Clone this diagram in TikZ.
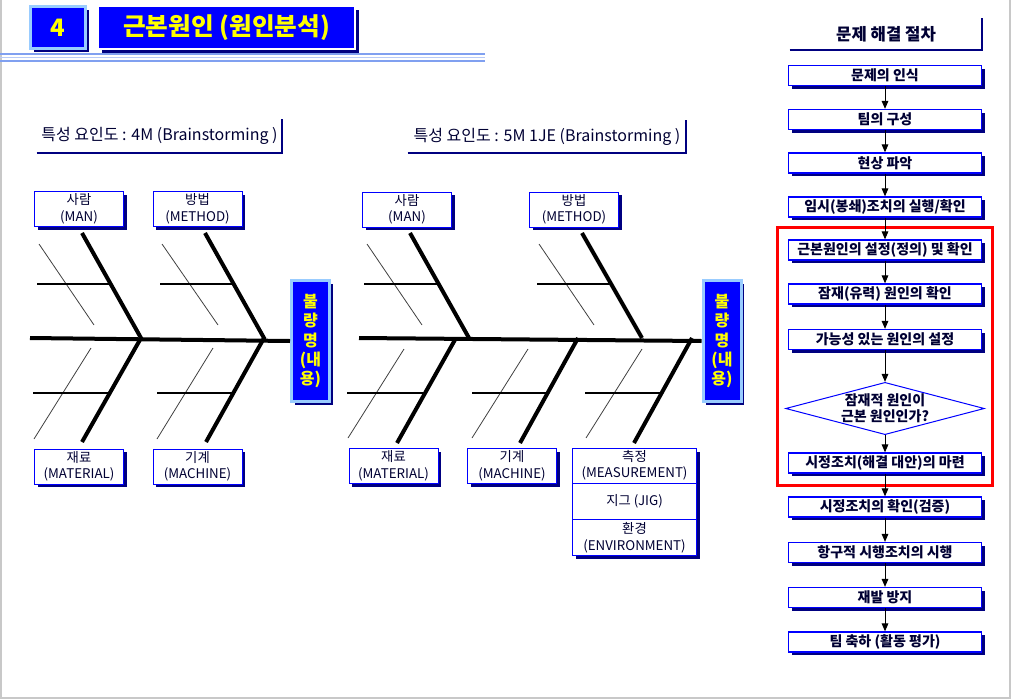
\documentclass[tikz,border=0pt]{standalone}
\usepackage{fontspec}
\setmainfont{Noto Sans CJK KR}
\usetikzlibrary{arrows.meta, positioning, shapes.geometric, shadows, fit}

\definecolor{navy}{RGB}{0,0,128}
\definecolor{boxblue}{RGB}{0,0,255}
\definecolor{paleblue}{RGB}{153,204,255}
\definecolor{ink}{RGB}{0,0,51}
\definecolor{titleyellow}{RGB}{255,255,0}
\definecolor{rulecol}{RGB}{128,160,240}
\definecolor{pageedge}{RGB}{200,200,200}

\tikzset{
  navyshadow/.style={drop shadow={shadow xshift=2.5pt, shadow yshift=-2.5pt, fill=navy, opacity=1}},
  labelbox/.style={draw=boxblue, fill=white, line width=0.75pt, minimum width=66.75pt, minimum height=26.25pt,
    inner sep=1pt, align=center, text=ink, font=\fontsize{10}{12.4}\selectfont, navyshadow},
  effectbox/.style={fill=boxblue, draw=paleblue, line width=2.25pt, minimum width=28.5pt, minimum height=90.75pt,
    inner sep=0pt, align=center, text=titleyellow, font=\bfseries\fontsize{12}{14.6}\selectfont, navyshadow},
  heading/.style={inner sep=0pt, text=ink, font=\fontsize{12}{14}\selectfont},
  headline/.style={navy, line width=1.5pt},
  flowbox/.style={draw=boxblue, fill=white, line width=1pt, minimum width=144.75pt, minimum height=15pt,
    inner sep=0pt, text=ink, font=\bfseries\fontsize{10.5}{12}\selectfont, navyshadow},
  flowarrow/.style={-{Triangle[width=5pt,length=6pt]}, line width=0.75pt},
  bigbone/.style={line width=3pt},
  spine/.style={line width=3pt},
  thinbone/.style={line width=0.6pt, black!75},
  crossbone/.style={line width=0.9pt},
  redframe/.style={draw=red, line width=2.25pt, inner xsep=7.5pt, inner ysep=9pt}
}

\begin{document}
\begin{tikzpicture}[x=0.75pt, y=-0.75pt]
    \useasboundingbox (0,0) rectangle (1012,699);
    \draw[pageedge, line width=1.5pt] (0.75,0) -- (0.75,697.5) -- (1009.5,697.5) -- (1009.5,0);

    \node[fill=boxblue, draw=paleblue, line width=2.25pt, minimum width=41.25pt, minimum height=31.5pt,
      text=titleyellow, font=\bfseries\fontsize{18}{20}\selectfont, navyshadow] (secno) at (58, 27.5) {4};
    \node[fill=boxblue, draw=white, line width=1.5pt, minimum width=192.75pt, minimum height=32.25pt,
      text=titleyellow, font=\bfseries\fontsize{18.5}{20}\selectfont,
      drop shadow={shadow xshift=3pt, shadow yshift=-3pt, fill=navy, opacity=1}] (title) at (226.5, 27.5) {근본원인 (원인분석)};
    \foreach \ry/\rc in {54/rulecol, 57.5/rulecol!55, 61/rulecol}
        \draw[\rc, line width=1pt] (0,\ry) -- (485,\ry);

    \node[heading, minimum width=183.75pt, minimum height=25.5pt] (hd4m) at (159.5, 136) {특성 요인도 : 4M (Brainstorming )};
    \draw[headline] (hd4m.south west) -- (hd4m.south east) -- (hd4m.north east);
    \node[heading, minimum width=208.5pt, minimum height=24.75pt] (hd5m) at (547, 136.5) {특성 요인도 : 5M 1JE (Brainstorming )};
    \draw[headline] (hd5m.south west) -- (hd5m.south east) -- (hd5m.north east);

    \node[labelbox] (man1) at (79, 209) {사람\\(MAN)};
    \node[labelbox] (method1) at (197.5, 209) {방법\\(METHOD)};
    \node[labelbox] (material1) at (79, 466.5) {재료\\(MATERIAL)};
    \node[labelbox] (machine1) at (197.5, 466.5) {기계\\(MACHINE)};
    \node[effectbox] (effect1) at (310.5, 341) {불\\량\\명\\(내\\용)};

    \draw[spine] (30,338) -- (effect1.west);
    \draw[bigbone] (82,233) -- (141,338) -- (82,442);
    \draw[bigbone] (205,233) -- (264,338) -- (206,442);
    \draw[thinbone] (39,244) -- (94,325);
    \draw[crossbone] (37,284) -- (111,284);
    \draw[thinbone] (162,244) -- (218,325);
    \draw[crossbone] (160,284) -- (234,284);
    \draw[thinbone] (91,348) -- (34,439);
    \draw[crossbone] (33,393) -- (110,393);
    \draw[thinbone] (213,348) -- (157,439);
    \draw[crossbone] (157,393) -- (233,393);

    \node[labelbox] (man2) at (407, 209.5) {사람\\(MAN)};
    \node[labelbox] (method2) at (574, 209.5) {방법\\(METHOD)};
    \node[labelbox] (material2) at (393.5, 466) {재료\\(MATERIAL)};
    \node[labelbox] (machine2) at (512, 466) {기계\\(MACHINE)};
    \node[labelbox, minimum width=93pt, minimum height=80.25pt] (measure) at (634.5, 502) {};
    \node[align=center, text=ink, font=\fontsize{10}{12.4}\selectfont] (msr) at (634.5, 465.5) {측정\\(MEASUREMENT)};
    \node[text=ink, font=\fontsize{10}{12.4}\selectfont] (jig) at (634.5, 501) {지그 (JIG)};
    \node[align=center, text=ink, font=\fontsize{10}{12.4}\selectfont] (env) at (634.5, 537.5) {환경\\(ENVIRONMENT)};
    \draw[boxblue, line width=0.75pt] (measure.west |- 0,483) -- (measure.east |- 0,483);
    \draw[boxblue, line width=0.75pt] (measure.west |- 0,519) -- (measure.east |- 0,519);
    \node[effectbox] (effect2) at (722, 341) {불\\량\\명\\(내\\용)};

    \draw[spine] (359,338) -- (effect2.west);
    \draw[bigbone] (410,233) -- (469,338);
    \draw[bigbone] (582,233) -- (642,338);
    \draw[bigbone] (456,338) -- (397,443);
    \draw[bigbone] (578,338) -- (520,443);
    \draw[bigbone] (692,338) -- (634,443);
    \draw[thinbone] (367,244) -- (422,325);
    \draw[crossbone] (364,284) -- (439,284);
    \draw[thinbone] (539,244) -- (594,325);
    \draw[crossbone] (537,284) -- (611,284);
    \draw[thinbone] (404,349) -- (348,438);
    \draw[crossbone] (347,393) -- (425,393);
    \draw[thinbone] (528,349) -- (472,438);
    \draw[crossbone] (472,393) -- (547,393);
    \draw[thinbone] (642,349) -- (586,438);
    \draw[crossbone] (585,393) -- (661,393);

    \node[heading, minimum width=144pt, minimum height=24pt, font=\bfseries\fontsize{12.5}{14}\selectfont] (proc) at (886, 34) {문제 해결 절차};
    \draw[headline] (proc.south west) -- (proc.south east) -- (proc.north east);

    \node[flowbox] (recog) at (885, 75.5) {문제의 인식};
    \node[flowbox] (team) at (885, 119.5) {팀의 구성};
    \node[flowbox] (grasp) at (885, 163) {현상 파악};
    \node[flowbox] (contain) at (885, 207) {임시(봉쇄)조치의 실행/확인};
    \node[flowbox] (rootdef) at (885, 250) {근본원인의 설정(정의) 및 확인};
    \node[flowbox] (suspect) at (885, 294) {잠재(유력) 원인의 확인};
    \node[flowbox] (likely) at (885, 339.5) {가능성 있는 원인의 설정};
    \node[diamond, aspect=3.8, draw=boxblue, fill=white, line width=0.75pt, inner sep=0pt, align=center,
      text=ink, font=\bfseries\fontsize{10.5}{12}\selectfont] (isroot) at (885, 408.5) {잠재적 원인이\\근본 원인인가?};
    \node[flowbox] (remedy) at (885, 463) {시정조치(해결 대안)의 마련};
    \node[flowbox] (verify) at (885, 507) {시정조치의 확인(검증)};
    \node[flowbox] (permanent) at (885, 552.5) {항구적 시행조치의 시행};
    \node[flowbox] (prevent) at (885, 597.5) {재발 방지};
    \node[flowbox] (celebrate) at (885, 642) {팀 축하 (활동 평가)};
    \node[redframe, fit=(rootdef)(remedy)] (focus) {};

    \draw[flowarrow] (recog) -- (team);
    \draw[flowarrow] (team) -- (grasp);
    \draw[flowarrow] (grasp) -- (contain);
    \draw[flowarrow] (contain) -- (rootdef);
    \draw[flowarrow] (rootdef) -- (suspect);
    \draw[flowarrow] (suspect) -- (likely);
    \draw[flowarrow] (likely) -- (isroot);
    \draw[flowarrow] (isroot) -- (remedy);
    \draw[flowarrow] (remedy) -- (verify);
    \draw[flowarrow] (verify) -- (permanent);
    \draw[flowarrow] (permanent) -- (prevent);
    \draw[flowarrow] (prevent) -- (celebrate);
\end{tikzpicture}
\end{document}
